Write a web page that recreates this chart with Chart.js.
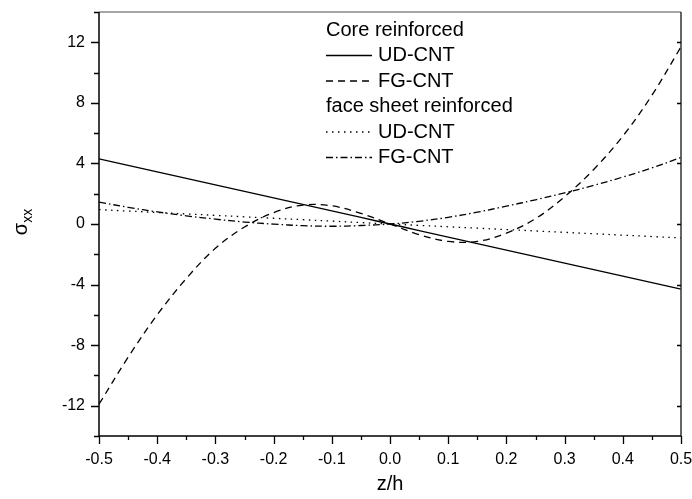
<!DOCTYPE html>
<html>
<head>
<meta charset="utf-8">
<script src="https://cdn.jsdelivr.net/npm/chart.js@4.4.1/dist/chart.umd.min.js"></script>
<style>
  html, body { margin: 0; padding: 0; background: #fff; }
  canvas { display: block; }
</style>
</head>
<body>
<canvas id="chart" width="692" height="499"></canvas>
<script>
// Normalised thickness coordinate z/h
const zValues = [-0.50, -0.45, -0.40, -0.35, -0.30, -0.25, -0.20, -0.15, -0.10, -0.05,
                  0.00,  0.05,  0.10,  0.15,  0.20,  0.25,  0.30,  0.35,  0.40,  0.45, 0.50];

// Core reinforced, uniformly distributed CNT
const coreUD = [4.30, 3.87, 3.44, 3.01, 2.58, 2.15, 1.72, 1.29, 0.86, 0.43,
                0.00, -0.43, -0.86, -1.29, -1.72, -2.15, -2.58, -3.01, -3.44, -3.87, -4.30];

// Core reinforced, functionally graded CNT
const coreFG = [-11.9, -8.8, -6.0, -3.6, -1.6, -0.2, 0.75, 1.25, 1.2, 0.7,
                0.0, -0.7, -1.15, -1.15, -0.6, 0.35, 1.8, 3.6, 5.8, 8.5, 11.7];

// Face sheet reinforced, uniformly distributed CNT
const faceUD = [0.95, 0.855, 0.76, 0.665, 0.57, 0.475, 0.38, 0.285, 0.19, 0.095,
                0.00, -0.092, -0.184, -0.276, -0.368, -0.46, -0.552, -0.644, -0.736, -0.828, -0.92];

// Face sheet reinforced, functionally graded CNT
const faceFG = [1.45, 1.1, 0.8, 0.54, 0.32, 0.13, -0.01, -0.11, -0.15, -0.1,
                0.0, 0.18, 0.44, 0.78, 1.18, 1.6, 2.05, 2.55, 3.1, 3.7, 4.4];

// Axis tick values
const xTicks = [-0.5, -0.4, -0.3, -0.2, -0.1, 0.0, 0.1, 0.2, 0.3, 0.4, 0.5];
const xMinorTicks = [-0.45, -0.35, -0.25, -0.15, -0.05, 0.05, 0.15, 0.25, 0.35, 0.45];
const yTicks = [-12, -8, -4, 0, 4, 8, 12];
const yMinorTicks = [-14, -10, -6, -2, 2, 6, 10, 14];

// Legend groups
const legendGroups = [
  { title: 'Core reinforced', items: [0, 1] },
  { title: 'face sheet reinforced', items: [2, 3] }
];

const FONT = '"Liberation Sans", Arial, sans-serif';

function toPoints(values) {
  return values.map((v, i) => ({ x: zValues[i], y: v }));
}

const datasets = [
  { label: 'UD-CNT', data: toPoints(coreUD), borderDash: [] },
  { label: 'FG-CNT', data: toPoints(coreFG), borderDash: [7, 5] },
  { label: 'UD-CNT', data: toPoints(faceUD), borderDash: [1.5, 4.5] },
  { label: 'FG-CNT', data: toPoints(faceFG), borderDash: [7, 3, 1.5, 3] }
].map(d => Object.assign(d, {
  borderColor: '#000',
  borderWidth: 1.3,
  pointRadius: 0,
  fill: false,
  tension: 0.35
}));

// Frame, tick marks, legend and y-axis title
const decorations = {
  id: 'decorations',
  afterDraw(chart) {
    const ctx = chart.ctx;
    const a = chart.chartArea;
    const xs = chart.scales.x, ys = chart.scales.y;
    ctx.save();

    // frame
    ctx.lineWidth = 1.5;
    ctx.strokeStyle = '#888';
    ctx.beginPath(); ctx.moveTo(a.left, a.top); ctx.lineTo(a.right, a.top); ctx.stroke();
    ctx.strokeStyle = '#333';
    ctx.beginPath(); ctx.moveTo(a.right, a.top); ctx.lineTo(a.right, a.bottom); ctx.stroke();
    ctx.strokeStyle = '#000';
    ctx.beginPath();
    ctx.moveTo(a.left, a.top); ctx.lineTo(a.left, a.bottom); ctx.lineTo(a.right, a.bottom);
    ctx.stroke();

    // tick marks
    ctx.lineWidth = 1.3;
    ctx.beginPath();
    yTicks.forEach(v => {
      const p = Math.round(ys.getPixelForValue(v)) + 0.5;
      ctx.moveTo(a.left - 8, p); ctx.lineTo(a.left, p);
      ctx.moveTo(a.right - 4, p); ctx.lineTo(a.right, p);
    });
    yMinorTicks.forEach(v => {
      const p = Math.round(ys.getPixelForValue(v)) + 0.5;
      ctx.moveTo(a.left - 5, p); ctx.lineTo(a.left, p);
    });
    xTicks.forEach(v => {
      const p = Math.round(xs.getPixelForValue(v)) + 0.5;
      ctx.moveTo(p, a.bottom); ctx.lineTo(p, a.bottom + 8);
    });
    xMinorTicks.forEach(v => {
      const p = Math.round(xs.getPixelForValue(v)) + 0.5;
      ctx.moveTo(p, a.bottom); ctx.lineTo(p, a.bottom + 4);
    });
    ctx.stroke();

    // legend
    ctx.fillStyle = '#000';
    ctx.font = '20px ' + FONT;
    ctx.textBaseline = 'middle';
    ctx.textAlign = 'left';
    const lx = 326, lineEnd = 372, textX = 378;
    let ly = 30;
    const step = 25.5;
    legendGroups.forEach(g => {
      ctx.fillText(g.title, lx, ly);
      ly += step;
      g.items.forEach(i => {
        const ds = chart.data.datasets[i];
        ctx.save();
        ctx.strokeStyle = '#000';
        ctx.lineWidth = 1.3;
        ctx.setLineDash(ds.borderDash);
        ctx.beginPath();
        ctx.moveTo(lx, ly); ctx.lineTo(lineEnd, ly);
        ctx.stroke();
        ctx.restore();
        ctx.fillText(ds.label, textX, ly);
        ly += step;
      });
    });

    // y-axis title: sigma with "xx" subscript, rotated
    ctx.save();
    ctx.translate(27, 222);
    ctx.rotate(-Math.PI / 2);
    ctx.textBaseline = 'alphabetic';
    ctx.textAlign = 'left';
    ctx.font = '20px ' + FONT;
    const sig = 'σ';
    const sw = ctx.measureText(sig).width;
    ctx.font = '14px ' + FONT;
    const subw = ctx.measureText('xx').width;
    const total = sw + subw;
    ctx.font = '20px ' + FONT;
    ctx.fillText(sig, -total / 2, 0);
    ctx.font = '14px ' + FONT;
    ctx.fillText('xx', -total / 2 + sw, 5);
    ctx.restore();

    ctx.restore();
  }
};

new Chart(document.getElementById('chart'), {
  type: 'line',
  data: { datasets },
  options: {
    responsive: false,
    animation: false,
    layout: { padding: { left: 0, top: 12, right: 11, bottom: 0 } },
    plugins: { legend: { display: false }, tooltip: { enabled: false } },
    scales: {
      x: {
        type: 'linear',
        min: -0.5, max: 0.5,
        afterFit(scale) {
          scale.height = 63;
          scale.paddingLeft = 0;
          scale.paddingRight = 0;
        },
        afterBuildTicks(scale) { scale.ticks = xTicks.map(v => ({ value: v })); },
        grid: { display: false, drawTicks: true, tickLength: 8 },
        border: { display: false },
        ticks: {
          color: '#000',
          padding: 6,
          maxRotation: 0,
          autoSkip: false,
          font: { family: FONT, size: 16 },
          callback: v => v.toFixed(1)
        },
        title: {
          display: true,
          text: 'z/h',
          color: '#000',
          font: { family: FONT, size: 20 },
          padding: { top: 2, bottom: 3 }
        }
      },
      y: {
        type: 'linear',
        min: -14, max: 14,
        afterFit(scale) {
          scale.width = 99;
          scale.paddingTop = 0;
          scale.paddingBottom = 0;
        },
        afterBuildTicks(scale) { scale.ticks = yTicks.map(v => ({ value: v })); },
        grid: { display: false, drawTicks: true, tickLength: 8 },
        border: { display: false },
        ticks: {
          color: '#000',
          padding: 6,
          autoSkip: false,
          font: { family: FONT, size: 16 },
          callback: v => String(v)
        }
      }
    }
  },
  plugins: [decorations]
});
</script>
</body>
</html>
